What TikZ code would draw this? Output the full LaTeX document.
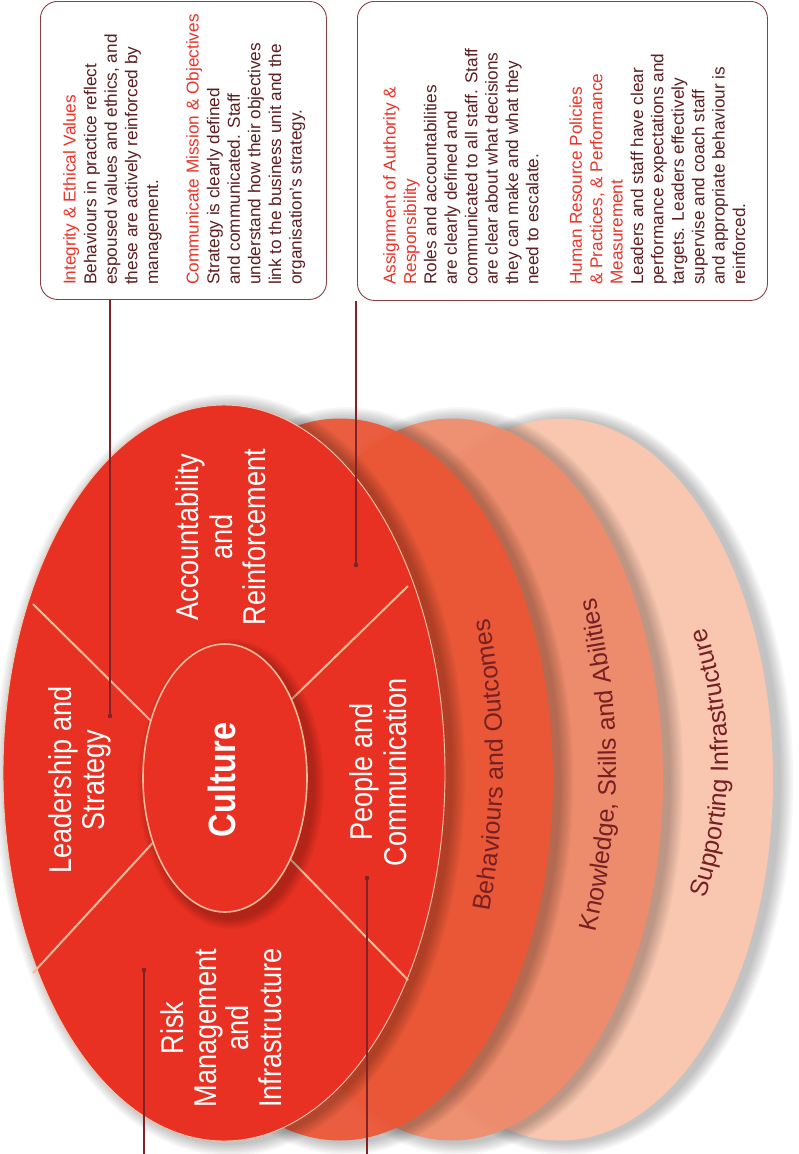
\documentclass[tikz,border=0pt]{standalone}
\usepackage{fontspec}
\setmainfont{Liberation Sans}
\newfontfamily\narrowfont{Liberation Sans}[FakeStretch=0.86]
\usetikzlibrary{shapes.geometric,decorations.text,calc}
\definecolor{mainred}{RGB}{233,49,35}
\definecolor{ringA}{RGB}{238,86,52}
\definecolor{ringB}{RGB}{243,140,106}
\definecolor{ringC}{RGB}{249,199,176}
\definecolor{peach}{RGB}{246,186,150}
\definecolor{linered}{RGB}{128,34,40}
\definecolor{boxline}{RGB}{140,62,66}
\definecolor{boxtext}{RGB}{92,30,32}
\definecolor{headred}{RGB}{234,52,40}
\definecolor{ringtext}{RGB}{118,32,36}
\newcommand{\ringfont}{\fontsize{25}{30}\selectfont}
\begin{document}
\begin{tikzpicture}[x=1pt,y=1pt,
  wheeltext/.style={text=white, rotate=90, align=center, inner sep=0pt,
    font=\narrowfont\fontsize{31.5}{33.5}\selectfont},
  boxtextstyle/.style={rotate=90, anchor=north west, align=left, inner sep=0pt,
    text=boxtext, font=\fontsize{17.2}{20.6}\selectfont},
  callbox/.style={draw=boxline, line width=0.9pt, rounded corners=17pt,
    anchor=north west, inner sep=0pt},
  leader/.style={draw=linered, line width=1.1pt},
  leaderdot/.style={circle, fill=linered, inner sep=0pt, minimum size=4.6pt},
  divider/.style={draw=peach, line width=2pt},
  ringlabel/.style={decorate, decoration={text along path, text align=center,
    text color=ringtext}},
]
\useasboundingbox[fill=white] (0,0) rectangle (798,-1154);

% ---- outer rings (back to front) ----
\foreach \k in {1,...,8} {\fill[black, opacity=0.03] (566,-781) ellipse [x radius=213+\k*1.8, y radius=361+\k*1.6];}
\fill[ringC] (560,-779.5) ellipse [x radius=213, y radius=361];
\foreach \k in {1,...,8} {\fill[black, opacity=0.03] (458,-781) ellipse [x radius=211+\k*1.8, y radius=361+\k*1.6];}
\fill[ringB, fill opacity=0.9] (452,-779.5) ellipse [x radius=211, y radius=361];
\foreach \k in {1,...,8} {\fill[black, opacity=0.03] (346,-781) ellipse [x radius=213+\k*1.8, y radius=361+\k*1.6];}
\fill[ringA, fill opacity=0.92] (340,-779.5) ellipse [x radius=213, y radius=361];

% ---- main wheel ----
\foreach \k in {1,...,8} {\fill[black, opacity=0.03] (230,-775) ellipse [x radius=221+\k*1.8, y radius=368+\k*1.6];}
\fill[mainred] (224,-773) ellipse [x radius=221, y radius=368];
\draw[peach!80!white, line width=0.9pt] (224,-773) ellipse [x radius=221, y radius=368];

% dividers
\coordinate (d1o) at (33,-604);  \coordinate (d1i) at (148,-718);
\coordinate (d2o) at (33,-973);  \coordinate (d2i) at (148,-848);
\coordinate (d3o) at (408,-586); \coordinate (d3i) at (293,-698);
\coordinate (d4o) at (408,-980); \coordinate (d4i) at (293,-862);
\draw[divider] (d1o) -- ($(d1o)!1.25!(d1i)$);
\draw[divider] (d2o) -- ($(d2o)!1.25!(d2i)$);
\draw[divider] (d3o) -- ($(d3o)!1.25!(d3i)$);
\draw[divider] (d4o) -- ($(d4o)!1.25!(d4i)$);

% culture centre
\foreach \k in {1,...,7} {\fill[black, opacity=0.035] (231,-784) ellipse [x radius=82+\k*1.6, y radius=134+\k*1.6];}
\node[ellipse, fill=mainred, draw=peach, line width=1.6pt, minimum width=164pt,
  minimum height=268pt, inner sep=0pt] (culture) at (225,-778) {};
\node[text=white, rotate=90, inner sep=0pt,
  font=\narrowfont\bfseries\fontsize{38}{40}\selectfont] (culturetext) at (222,-780) {Culture};

% sector labels
\node[wheeltext] (lead) at (80,-780) {Leadership and\\Strategy};
\node[wheeltext] (acc) at (221,-537) {Accountability\\and\\Reinforcement};
\node[wheeltext] (people) at (378,-772) {People and\\Communication};
\node[wheeltext, font=\narrowfont\fontsize{31.5}{32.5}\selectfont] (risk) at (221,-1028) {Risk\\Management\\and\\Infrastructure};

% ring labels (curved)
\path[ringlabel, decoration={text={|\ringfont|Behaviours and Outcomes}}]
  (503,-765) ++(-800,0) ++(-22:800) arc[start angle=-22, end angle=22, radius=800];
\path[ringlabel, decoration={text={|\ringfont|Knowledge{,} Skills and Abilities}}]
  (616,-765) ++(-700,0) ++(-25:700) arc[start angle=-25, end angle=25, radius=700];
\path[ringlabel, decoration={text={|\ringfont|Supporting Infrastructure}}]
  (728,-763) ++(-420,0) ++(-38:420) arc[start angle=-38, end angle=38, radius=420];

% ---- callout boxes ----
\node[callbox, minimum width=286pt, minimum height=298pt] (box1) at (40,-1) {};
\node[boxtextstyle] (box1text) at (63,-285) {%
\textcolor{headred}{Integrity \& Ethical Values}\\
Behaviours in practice reflect\\
espoused values and ethics, and\\
these are actively reinforced by\\
management.\\[20pt]
\textcolor{headred}{Communicate Mission \& Objectives}\\
Strategy is clearly defined\\
and communicated. Staff\\
understand how their objectives\\
link to the business unit and the\\
organisation's strategy.};

\node[callbox, minimum width=410pt, minimum height=299pt] (box2) at (357,-1) {};
\node[boxtextstyle, font=\fontsize{17.2}{20.4}\selectfont] (box2text) at (383,-285) {%
\textcolor{headred}{Assignment of Authority \&}\\
\textcolor{headred}{Responsibility}\\
Roles and accountabilities\\
are clearly defined and\\
communicated to all staff. Staff\\
are clear about what decisions\\
they can make and what they\\
need to escalate.\\[23pt]
\textcolor{headred}{Human Resource Policies}\\
\textcolor{headred}{\& Practices, \& Performance}\\
\textcolor{headred}{Measurement}\\
Leaders and staff have clear\\
performance expectations and\\
targets. Leaders effectively\\
supervise and coach staff\\
and appropriate behaviour is\\
reinforced.};

% ---- leader lines ----
\node[leaderdot] (dotLS) at (110,-716) {};
\node[leaderdot] (dotAR) at (356,-565) {};
\node[leaderdot] (dotRM) at (144,-970) {};
\node[leaderdot] (dotPC) at (367,-878) {};
\coordinate (endRM) at (144,-1154);
\coordinate (endPC) at (367,-1154);
\draw[leader] (box1.south -| dotLS) -- (dotLS.center);
\draw[leader] (box2.south -| dotAR) -- (dotAR.center);
\draw[leader] (dotRM.center) -- (endRM);
\draw[leader] (dotPC.center) -- (endPC);
\end{tikzpicture}
\end{document}
